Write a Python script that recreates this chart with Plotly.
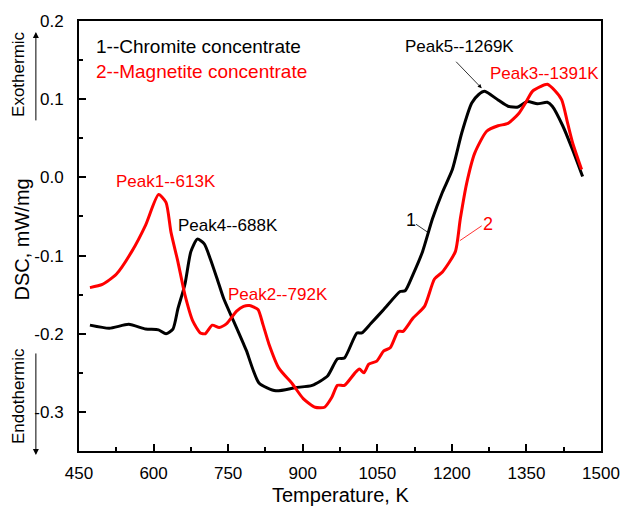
import plotly.graph_objects as go

# ---- data ----
chromite_T = [472, 511, 550, 584, 610, 625, 639, 649, 663, 675, 688, 702, 714, 728, 741, 761, 781,
              787, 812, 846, 885, 919, 950, 970, 984, 1009, 1019, 1037, 1063, 1096, 1106, 1122, 1141,
              1161, 1181, 1201, 1220, 1240, 1254, 1266, 1293, 1313, 1333, 1352, 1372, 1392, 1402,
              1423, 1443, 1463]
chromite_dsc = [-0.189, -0.193, -0.188, -0.194, -0.195, -0.200, -0.194, -0.168, -0.137, -0.095, -0.079,
                -0.085, -0.104, -0.130, -0.155, -0.184, -0.213, -0.222, -0.263, -0.273, -0.269, -0.266,
                -0.254, -0.232, -0.231, -0.199, -0.199, -0.187, -0.169, -0.146, -0.145, -0.124, -0.095,
                -0.053, -0.019, 0.010, 0.057, 0.095, 0.106, 0.110, 0.099, 0.091, 0.090, 0.097, 0.094,
                0.096, 0.091, 0.066, 0.035, 0.001]

magnetite_T = [472, 497, 525, 556, 584, 610, 625, 635, 649, 663, 679, 694, 704, 718, 732, 747, 767,
               781, 793, 810, 820, 832, 852, 879, 901, 925, 944, 958, 970, 984, 1004, 1014, 1023,
               1033, 1049, 1063, 1076, 1092, 1102, 1122, 1145, 1165, 1181, 1207, 1217, 1230, 1246,
               1270, 1293, 1313, 1335, 1348, 1362, 1378, 1392, 1407, 1421, 1433, 1443, 1461]
magnetite_dsc = [-0.141, -0.137, -0.124, -0.095, -0.061, -0.022, -0.032, -0.070, -0.108, -0.150,
                 -0.184, -0.199, -0.200, -0.189, -0.192, -0.187, -0.171, -0.165, -0.164, -0.169,
                 -0.188, -0.213, -0.244, -0.264, -0.283, -0.294, -0.294, -0.282, -0.266, -0.266,
                 -0.251, -0.245, -0.250, -0.239, -0.235, -0.222, -0.218, -0.197, -0.197, -0.180,
                 -0.165, -0.130, -0.121, -0.095, -0.053, -0.007, 0.031, 0.059, 0.066, 0.069, 0.082,
                 0.095, 0.110, 0.116, 0.119, 0.111, 0.099, 0.069, 0.044, 0.010]

x_ticks = [450, 600, 750, 900, 1050, 1200, 1350, 1500]
x_ticktext = ["450", "600", "750", "900", "1050", "1200", "1350", "1500"]
y_ticks = [-0.3, -0.2, -0.1, 0.0, 0.1, 0.2]
y_ticktext = ["-0.3", "-0.2", "-0.1", "0.0", "0.1", "0.2"]

FONT = "Liberation Sans, Arial, sans-serif"
RED = "#ff0000"

fig = go.Figure()
fig.add_trace(go.Scatter(x=chromite_T, y=chromite_dsc, mode="lines", name="1--Chromite concentrate",
                         line=dict(color="black", width=3, shape="spline", smoothing=0.6)))
fig.add_trace(go.Scatter(x=magnetite_T, y=magnetite_dsc, mode="lines", name="2--Magnetite concentrate",
                         line=dict(color=RED, width=3, shape="spline", smoothing=0.6)))

ann = []
def txt(x, y, s, color, size, xanchor="left", xref="x", yref="y", angle=0):
    ann.append(dict(x=x, y=y, xref=xref, yref=yref, text=s, showarrow=False, xanchor=xanchor,
                    yanchor="middle", textangle=angle, font=dict(family=FONT, size=size, color=color)))

txt(480, 0.167, "1--Chromite concentrate", "black", 19)
txt(480, 0.135, "2--Magnetite concentrate", RED, 19)
txt(521, -0.005, "Peak1--613K", RED, 17)
txt(645, -0.062, "Peak4--688K", "black", 17)
txt(745, -0.150, "Peak2--792K", RED, 17)
txt(1101, 0.167, "Peak5--1269K", "black", 17)
txt(1272, 0.133, "Peak3--1391K", RED, 17)
txt(1118, -0.055, "1", "black", 18, xanchor="center")
txt(1273, -0.060, "2", RED, 18, xanchor="center")

# peak5 arrow
ann.append(dict(x=1260, y=0.114, xref="x", yref="y", ax=-27, ay=-28, text="", showarrow=True,
                arrowhead=2, arrowsize=1, arrowwidth=0.8, arrowcolor="black"))

# exo/endo labels and arrows (paper coords)
txt(-0.116, (451 - 70) / 434, "Exothermic", "black", 17, xanchor="center", xref="paper", yref="paper", angle=-90)
txt(-0.116, (451 - 395) / 434, "Endothermic", "black", 17, xanchor="center", xref="paper", yref="paper", angle=-90)
ann.append(dict(x=-0.0826, y=(451 - 28) / 434, xref="paper", yref="paper", ax=0, ay=90, text="",
                showarrow=True, arrowhead=2, arrowsize=1.2, arrowwidth=1, arrowcolor="black"))
ann.append(dict(x=-0.0826, y=(451 - 455) / 434, xref="paper", yref="paper", ax=0, ay=-103, text="",
                showarrow=True, arrowhead=2, arrowsize=1.2, arrowwidth=1, arrowcolor="black"))

# axis titles
txt(-0.110, (451 - 238) / 434, "DSC, mW/mg", "black", 20, xanchor="center", xref="paper", yref="paper", angle=-90)
txt(0.5, (451 - 495) / 434, "Temperature, K", "black", 20, xanchor="center", xref="paper", yref="paper")

shapes = [
    dict(type="line", xref="x", yref="y", x0=1128, y0=-0.060, x1=1151, y1=-0.070,
         line=dict(color="black", width=0.8)),
    dict(type="line", xref="x", yref="y", x0=1260, y0=-0.062, x1=1216, y1=-0.081,
         line=dict(color=RED, width=0.8)),
]

fig.update_layout(
    width=632, height=513,
    margin=dict(l=79, r=20, t=17, b=62),
    paper_bgcolor="white", plot_bgcolor="white",
    showlegend=False,
    annotations=ann, shapes=shapes,
    font=dict(family=FONT, size=17, color="black"),
)
fig.update_xaxes(range=[450, 1500], tickvals=x_ticks, ticktext=x_ticktext, showgrid=False, zeroline=False,
                 showline=True, linecolor="black", linewidth=2, mirror=True,
                 ticks="inside", ticklen=7, tickwidth=1.5, tickcolor="black",
                 minor=dict(ticks="inside", ticklen=4, tickwidth=1.5, tickcolor="black", dtick=75, tick0=450),
                 tickfont=dict(family=FONT, size=17), ticklabelstandoff=6)
fig.update_yaxes(range=[-0.35, 0.2], tickvals=y_ticks, ticktext=y_ticktext, showgrid=False, zeroline=False,
                 showline=True, linecolor="black", linewidth=2, mirror=True,
                 ticks="inside", ticklen=7, tickwidth=1.5, tickcolor="black",
                 minor=dict(ticks="inside", ticklen=4, tickwidth=1.5, tickcolor="black", dtick=0.05, tick0=0),
                 tickfont=dict(family=FONT, size=17), ticklabelstandoff=10)

fig.write_html("out.html")
